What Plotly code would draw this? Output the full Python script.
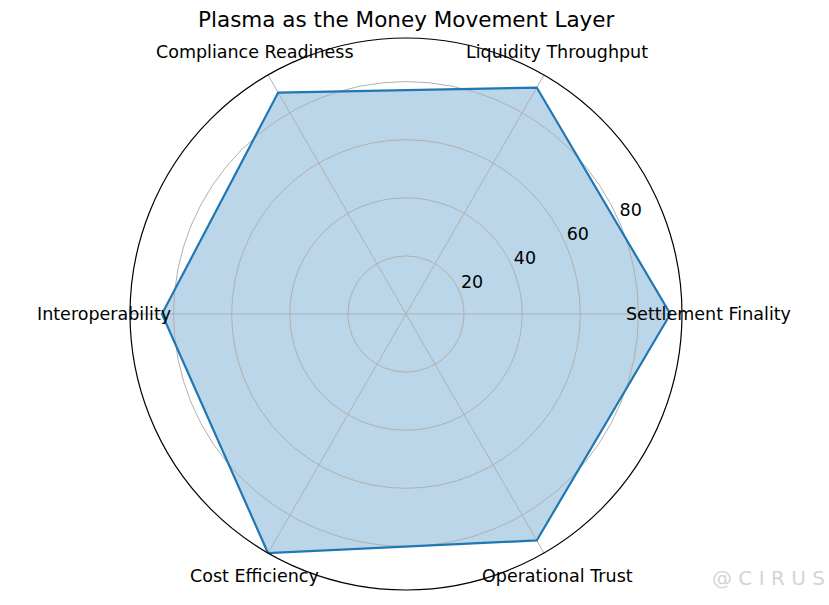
import math
import plotly.graph_objects as go

categories = ["Settlement Finality", "Liquidity Throughput", "Compliance Readiness",
              "Interoperability", "Cost Efficiency", "Operational Trust"]
values = [91, 90, 88, 84, 95, 90]
radial_ticks = [20, 40, 60, 80]
radial_max = 95
title = "Plasma as the Money Movement Layer"

n = len(categories)
angles = [i * 360.0 / n for i in range(n)]

W, H = 829, 605
cx, cy, R = 406, 314, 276
label_dist = 302  # px from centre for category labels

r_closed = values + values[:1]
t_closed = angles + angles[:1]

fig = go.Figure()

# fill (bottom subplot, under the grid)
fig.add_trace(go.Scatterpolar(
    r=r_closed, theta=t_closed, mode="lines", fill="toself",
    fillcolor="rgba(31,119,180,0.3)", line=dict(color="rgba(0,0,0,0)", width=0),
    hoverinfo="skip", showlegend=False, subplot="polar",
))

# outline (top subplot, above the grid)
fig.add_trace(go.Scatterpolar(
    r=r_closed, theta=t_closed, mode="lines",
    line=dict(color="#1f77b4", width=2.2),
    hoverinfo="skip", showlegend=False, subplot="polar2",
))

# radial tick labels
fig.add_trace(go.Scatterpolar(
    r=[t + 5 for t in radial_ticks],
    theta=[24.5] * len(radial_ticks),
    mode="text",
    text=[str(t) for t in radial_ticks],
    textposition="middle center",
    textfont=dict(family="DejaVu Sans", size=17.5, color="black"),
    cliponaxis=False, hoverinfo="skip", showlegend=False, subplot="polar2",
))

annotations = []
for cat, a in zip(categories, angles):
    rad = math.radians(a)
    annotations.append(dict(
        text=cat, xref="paper", yref="paper",
        x=(cx + label_dist * math.cos(rad)) / W,
        y=1 - (cy - label_dist * math.sin(rad)) / H,
        xanchor="center", yanchor="middle", showarrow=False,
        font=dict(family="DejaVu Sans", size=17.5, color="black"),
    ))
annotations.append(dict(text="@ C I R U S", x=0.997, y=1 - 578 / H, xref="paper", yref="paper",
                        xanchor="right", yanchor="middle", showarrow=False,
                        font=dict(family="DejaVu Sans", size=20, color="#d4d4d4")))

domain = dict(x=[(cx - R) / W, (cx + R) / W], y=[(H - cy - R) / H, (H - cy + R) / H])

common_angular = dict(tickmode="array", tickvals=angles, showticklabels=False, ticks="",
                      direction="counterclockwise", rotation=0, thetaunit="degrees")
common_radial = dict(range=[0, radial_max], tickvals=radial_ticks, showticklabels=False,
                     ticks="", showline=False)

fig.update_layout(
    width=W, height=H,
    margin=dict(l=0, r=0, t=0, b=0),
    paper_bgcolor="white",
    plot_bgcolor="white",
    font=dict(family="DejaVu Sans", color="black"),
    title=dict(text=title, x=0.49, xanchor="center", y=1 - 19 / H, yanchor="middle",
               font=dict(family="DejaVu Sans", size=21.5, color="black")),
    polar=dict(
        domain=domain, bgcolor="white",
        radialaxis=dict(**common_radial, showgrid=False),
        angularaxis=dict(**common_angular, showgrid=False, showline=False),
    ),
    polar2=dict(
        domain=domain, bgcolor="rgba(0,0,0,0)",
        radialaxis=dict(**common_radial, gridcolor="#b0b0b0", gridwidth=1),
        angularaxis=dict(**common_angular, showline=True, linecolor="black", linewidth=1.2,
                         gridcolor="#b0b0b0", gridwidth=1),
    ),
    annotations=annotations,
)

fig.write_html("out.html", config={"displayModeBar": False},
               post_script="document.body.style.margin='0';")
